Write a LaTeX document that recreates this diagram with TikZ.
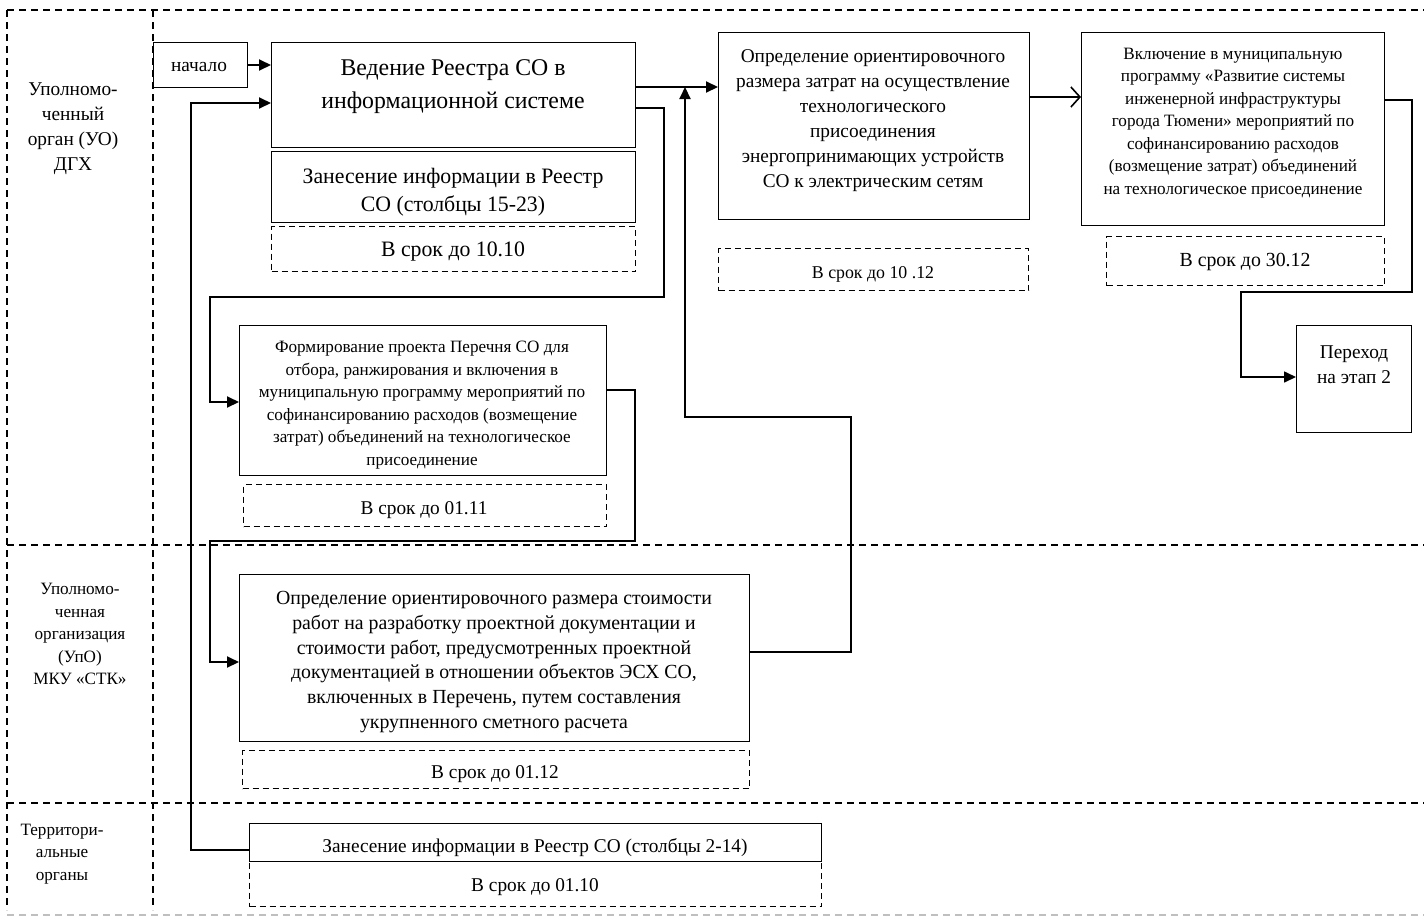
\documentclass[tikz,border=0pt]{standalone}
\usepackage{fontspec}
\setmainfont{Liberation Serif}[FakeStretch=0.99]
\usetikzlibrary{arrows.meta}
\begin{document}
\begin{tikzpicture}[x=1pt,y=-1pt,
  box/.style={draw, line width=1pt, anchor=north west, inner sep=0pt},
  dbox/.style={draw, line width=1pt, dash pattern=on 6pt off 4pt, anchor=north west, inner sep=0pt},
  txt/.style={align=center, inner sep=0pt},
  conn/.style={line width=2pt},
  arr/.style={conn, -{Triangle[length=12pt,width=11pt]}},
  lane/.style={line width=1.8pt, dash pattern=on 7pt off 5pt},
  fA/.style={font=\fontsize{24}{33}\selectfont},
  fB/.style={font=\fontsize{22}{28}\selectfont},
  fM/.style={font=\fontsize{19.5}{25}\selectfont},
  fS/.style={font=\fontsize{17.3}{22.5}\selectfont},
]
\useasboundingbox (0,0) rectangle (1424,919);
% swimlane frame
\draw[lane] (7,10) -- (1424,10);
\draw[lane] (7,10) -- (7,910);
\draw[lane] (153,10) -- (153,910);
\draw[lane] (7,545) -- (1424,545);
\draw[lane] (7,803) -- (1424,803);
\draw[lane, black!25] (7,915) -- (1424,915);
% lane labels
\node[txt, fM] (L1) at (73,129) {Уполномо-\\ченный\\орган (УО)\\ДГХ};
\node[txt, fS] (L2) at (80,634) {Уполномо-\\ченная\\организация\\(УпО)\\МКУ «СТК»};
\node[txt, fS] (L3) at (62,854) {Территори-\\альные\\органы};
% boxes
\node[box, minimum width=94pt, minimum height=45pt] (start) at (153,42) {};
\node[txt, fM] (startt) at (199,67) {начало};
\node[box, minimum width=364pt, minimum height=105pt] (A) at (271,42) {};
\node[txt, fA] (At) at (453,87) {Ведение Реестра СО в\\информационной системе};
\node[box, minimum width=364pt, minimum height=71pt] (B) at (271,151) {};
\node[txt, fB] (Bt) at (453,192) {Занесение информации в Реестр\\СО (столбцы 15-23)};
\node[dbox, minimum width=364pt, minimum height=45pt] (C) at (271,226) {};
\node[txt, fB] (Ct) at (453,252) {В срок до 10.10};
\node[box, minimum width=311pt, minimum height=187pt] (D) at (718,32) {};
\node[txt, fM] (Dt) at (873,121) {Определение ориентировочного\\размера затрат на осуществление\\технологического\\присоединения\\энергопринимающих устройств\\СО к электрическим сетям};
\node[dbox, minimum width=310pt, minimum height=42pt] (E) at (718,248) {};
\node[txt, font=\fontsize{18}{22}\selectfont] (Et) at (873,274) {В срок до 10 .12};
\node[box, minimum width=303pt, minimum height=193pt] (F) at (1081,32) {};
\node[txt, fS] (Ft) at (1233,123) {Включение в муниципальную\\программу «Развитие системы\\инженерной инфраструктуры\\города Тюмени» мероприятий по\\софинансированию расходов\\(возмещение затрат) объединений\\на технологическое присоединение};
\node[dbox, minimum width=278pt, minimum height=49pt] (G) at (1106,236) {};
\node[txt, font=\fontsize{20}{24}\selectfont] (Gt) at (1245,262) {В срок до 30.12};
\node[box, minimum width=115pt, minimum height=107pt] (H) at (1296,325) {};
\node[txt, fM] (Ht) at (1354,365) {Переход\\на этап 2};
\node[box, minimum width=367pt, minimum height=150pt] (I) at (239,325) {};
\node[txt, fS] (It) at (422,405) {Формирование проекта Перечня СО для\\отбора, ранжирования и включения в\\муниципальную программу мероприятий по\\софинансированию расходов (возмещение\\затрат) объединений на технологическое\\присоединение};
\node[dbox, minimum width=363pt, minimum height=42pt] (J) at (243,484) {};
\node[txt, fM] (Jt) at (424,510) {В срок до 01.11};
\node[box, minimum width=510pt, minimum height=167pt] (K) at (239,574) {};
\node[txt, font=\fontsize{20}{24.8}\selectfont] (Kt) at (494,662) {Определение ориентировочного размера стоимости\\работ на разработку проектной документации и\\стоимости работ, предусмотренных проектной\\документацией в отношении объектов ЭСХ СО,\\включенных в Перечень, путем составления\\укрупненного сметного расчета};
\node[dbox, minimum width=507pt, minimum height=38pt] (L) at (242,750) {};
\node[txt, fM] (Lt) at (495,774) {В срок до 01.12};
\node[box, minimum width=572pt, minimum height=38pt] (M) at (249,823) {};
\node[txt, fM] (Mt) at (535,848) {Занесение информации в Реестр СО (столбцы 2-14)};
\node[dbox, minimum width=572pt, minimum height=45pt] (N) at (249,861) {};
\node[txt, fM] (Nt) at (535,887) {В срок до 01.10};
% turn points
\coordinate (m1) at (191,850);
\coordinate (m2) at (191,103);
\coordinate (a1) at (635,87);
\coordinate (a2) at (635,108);
\coordinate (a3) at (664,108);
\coordinate (a4) at (664,297);
\coordinate (a5) at (210,297);
\coordinate (a6) at (210,402);
\coordinate (i1) at (606,390);
\coordinate (i2) at (635,390);
\coordinate (i3) at (635,541);
\coordinate (i4) at (210,541);
\coordinate (i5) at (210,662);
\coordinate (k1) at (749,652);
\coordinate (k2) at (851,652);
\coordinate (k3) at (851,417);
\coordinate (k4) at (685,417);
\coordinate (k5) at (685,87);
\coordinate (d1) at (1029,97);
\coordinate (f1) at (1384,100);
\coordinate (f2) at (1412,100);
\coordinate (f3) at (1412,292);
\coordinate (f4) at (1241,292);
\coordinate (f5) at (1241,377);
% connectors
\draw[arr] (start.east) -- (A.west |- start.east);
\draw[arr] (M.west |- m1) -- (m1) -- (m2) -- (A.west |- m2);
\draw[arr] (A.east |- a1) -- (D.west |- a1);
\draw[arr] (A.east |- a2) -- (a3) -- (a4) -- (a5) -- (a6) -- (I.west |- a6);
\draw[arr] (I.east |- i1) -- (i2) -- (i3) -- (i4) -- (i5) -- (K.west |- i5);
\draw[arr] (K.east |- k1) -- (k2) -- (k3) -- (k4) -- (k5);
\draw[line width=1.6pt, -{Straight Barb[length=9pt,width=20pt]}] (D.east |- d1) -- (F.west |- d1);
\draw[line width=1.6pt, -{Triangle[length=12pt,width=11pt]}] (F.east |- f1) -- (f2) -- (f3) -- (f4) -- (f5) -- (H.west |- f5);
\end{tikzpicture}
\end{document}
